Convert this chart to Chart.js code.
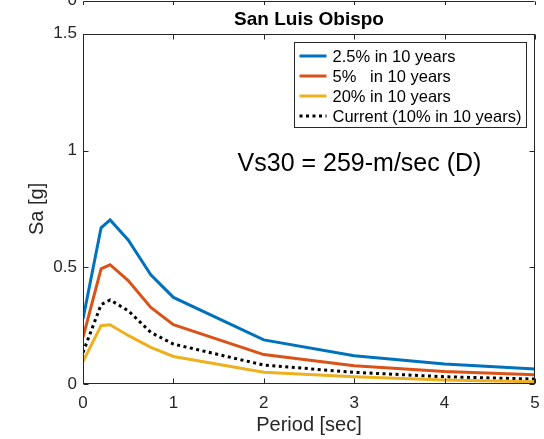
<!DOCTYPE html>
<html>
<head>
<meta charset="utf-8">
<script src="https://cdn.jsdelivr.net/npm/chart.js@4"></script>
<style>
  html, body { margin: 0; padding: 0; background: #fff; }
  #wrap { width: 544px; height: 439px; }
</style>
</head>
<body>
<div id="wrap"><canvas id="chart" width="544" height="439"></canvas></div>
<script>
// values
const periods = [0, 0.2, 0.3, 0.5, 0.75, 1, 2, 3, 4, 5]
const sa25 = [0.279, 0.669, 0.703, 0.617, 0.468, 0.371, 0.189, 0.121, 0.086, 0.064]
const sa5 = [0.200, 0.493, 0.511, 0.443, 0.328, 0.254, 0.126, 0.078, 0.054, 0.040]
const sa20 = [0.096, 0.250, 0.254, 0.208, 0.157, 0.118, 0.050, 0.031, 0.017, 0.010]
const saCurrent = [0.135, 0.340, 0.360, 0.314, 0.221, 0.171, 0.081, 0.050, 0.031, 0.021]

const seriesLabels = ['2.5% in 10 years', '5%   in 10 years', '20% in 10 years', 'Current (10% in 10 years)']
const seriesColors = ['#0072BD', '#D95319', '#EDB120', '#000000']
const xTicks = [0, 1, 2, 3, 4, 5]
const yTicks = [0, 0.5, 1, 1.5]
const noteText = 'Vs30 = 259-m/sec (D)'
const notePos = [1.71, 0.94]

const FONT = "'Liberation Sans', Arial, Helvetica, sans-serif"
const AXIS = '#262626'

function pts(vals){
    return periods.map((p, i) => ({x: p, y: vals[i]}))
}

const allSeries = [sa25, sa5, sa20, saCurrent]
const datasets = allSeries.map((vals, i) => ({
    label: seriesLabels[i],
    data: pts(vals),
    borderColor: seriesColors[i],
    backgroundColor: seriesColors[i],
    borderWidth: 3,
    borderDash: i === 3 ? [3, 3.5] : [],
    borderCapStyle: 'butt',
    pointRadius: 0,
    tension: 0,
    fill: false
}))

// frame, inward ticks, legend, note text, remnant of the plot above
const decor = {
    id: 'decor',
    afterDraw(chart){
        const {ctx, chartArea: a, scales: {x, y}} = chart
        const L = Math.round(a.left) + 0.5, R = Math.round(a.right) - 0.5
        const T = Math.round(a.top) + 0.5, B = Math.round(a.bottom) - 0.5
        ctx.save()
        ctx.strokeStyle = AXIS
        ctx.lineWidth = 1
        ctx.strokeRect(L, T, R - L, B - T)

        ctx.beginPath()
        xTicks.forEach(v => {
            const px = Math.round(x.getPixelForValue(v)) + 0.5
            ctx.moveTo(px, B); ctx.lineTo(px, B - 5)
            ctx.moveTo(px, T); ctx.lineTo(px, T + 5)
        })
        yTicks.forEach(v => {
            const py = Math.round(y.getPixelForValue(v)) + 0.5
            ctx.moveTo(L, py); ctx.lineTo(L + 5, py)
            ctx.moveTo(R, py); ctx.lineTo(R - 5, py)
        })
        ctx.stroke()

        // bottom edge of the subplot above
        ctx.beginPath()
        ctx.moveTo(L, 1.5); ctx.lineTo(R, 1.5)
        xTicks.forEach(v => {
            const px = Math.round(x.getPixelForValue(v)) + 0.5
            ctx.moveTo(px, 1.5); ctx.lineTo(px, 5)
        })
        ctx.stroke()
        ctx.fillStyle = AXIS
        ctx.font = '17px ' + FONT
        ctx.textAlign = 'right'
        ctx.textBaseline = 'alphabetic'
        ctx.fillText('0', a.left - 6, 5)

        // note
        ctx.fillStyle = '#000'
        ctx.font = '25px ' + FONT
        ctx.textAlign = 'left'
        ctx.textBaseline = 'middle'
        ctx.fillText(noteText, x.getPixelForValue(notePos[0]), y.getPixelForValue(notePos[1]))

        // legend
        ctx.font = '16.5px ' + FONT
        let maxW = 0
        seriesLabels.forEach(s => { maxW = Math.max(maxW, ctx.measureText(s).width) })
        const boxR = R - 8, boxT = T + 8
        const boxW = 5 + 27 + 6 + maxW + 6
        const boxL = Math.round(boxR - boxW) + 0.5
        const boxH = 85
        ctx.fillStyle = '#fff'
        ctx.fillRect(boxL, boxT, boxR - boxL, boxH)
        ctx.strokeStyle = AXIS
        ctx.lineWidth = 1
        ctx.strokeRect(boxL, boxT, boxR - boxL, boxH)
        datasets.forEach((ds, i) => {
            const ry = boxT + 13.5 + i * 20
            ctx.beginPath()
            ctx.strokeStyle = ds.borderColor
            ctx.lineWidth = 3
            ctx.setLineDash(ds.borderDash)
            ctx.moveTo(boxL + 5, ry); ctx.lineTo(boxL + 32, ry)
            ctx.stroke()
            ctx.setLineDash([])
            ctx.fillStyle = '#000'
            ctx.textAlign = 'left'
            ctx.textBaseline = 'middle'
            ctx.fillText(ds.label, boxL + 38, ry + 1)
        })
        ctx.restore()
    }
}

new Chart(document.getElementById('chart'), {
    type: 'line',
    data: { datasets: datasets },
    options: {
        responsive: false,
        animation: false,
        devicePixelRatio: 1,
        layout: { padding: { left: 0, right: 9, top: 0, bottom: 0 } },
        plugins: {
            legend: { display: false },
            tooltip: { enabled: false },
            title: {
                display: true,
                text: 'San Luis Obispo',
                color: '#000',
                fullSize: false,
                font: { family: FONT, size: 19, weight: 'bold' },
                padding: { top: 8, bottom: 3 }
            }
        },
        scales: {
            x: {
                type: 'linear',
                min: 0, max: 5,
                afterFit(s){ s.height = 55; s.paddingLeft = 0; s.paddingRight = 0 },
                afterBuildTicks(s){ s.ticks = xTicks.map(v => ({value: v})) },
                grid: { display: false, drawTicks: false },
                border: { display: false },
                ticks: { color: AXIS, padding: 9, font: { family: FONT, size: 17 }, maxRotation: 0,
                         callback: v => String(v) },
                title: {
                    display: true, text: 'Period [sec]', color: AXIS,
                    font: { family: FONT, size: 20 }, padding: { top: 0, bottom: 2 }
                }
            },
            y: {
                type: 'linear',
                min: 0, max: 1.5,
                afterFit(s){ s.width = 83; s.paddingTop = 0; s.paddingBottom = 0 },
                afterBuildTicks(s){ s.ticks = yTicks.map(v => ({value: v})) },
                grid: { display: false, drawTicks: false },
                border: { display: false },
                ticks: { color: AXIS, padding: 6, font: { family: FONT, size: 17 },
                         callback: v => String(v) },
                title: {
                    display: true, text: 'Sa [g]', color: AXIS,
                    font: { family: FONT, size: 20 }, padding: { top: 25, bottom: 0 }
                }
            }
        }
    },
    plugins: [decor]
})
</script>
</body>
</html>
